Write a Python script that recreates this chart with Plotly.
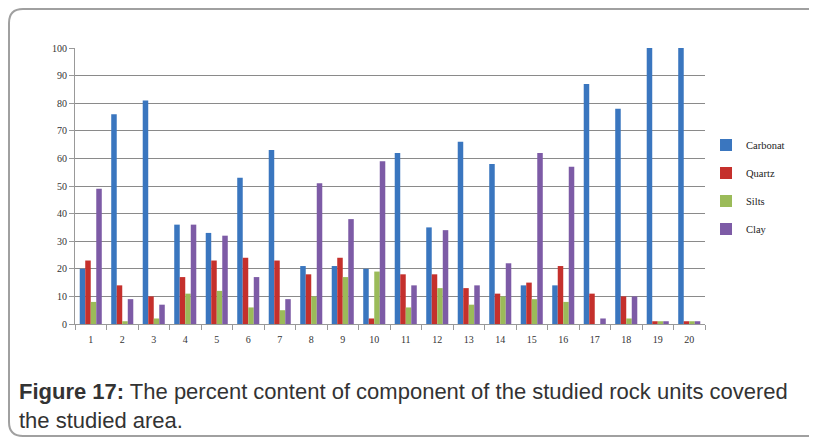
import plotly.graph_objects as go

categories = [str(i) for i in range(1, 21)]
carbonat = [20, 76, 81, 36, 33, 53, 63, 21, 21, 20, 62, 35, 66, 58, 14, 14, 87, 78, 100, 100]
quartz   = [23, 14, 10, 17, 23, 24, 23, 18, 24, 2, 18, 18, 13, 11, 15, 21, 11, 10, 1, 1]
silts    = [8, 1, 2, 11, 12, 6, 5, 10, 17, 19, 6, 13, 7, 10, 9, 8, 0, 2, 1, 1]
clay     = [49, 9, 7, 36, 32, 17, 9, 51, 38, 59, 14, 34, 14, 22, 62, 57, 2, 10, 1, 1]
series_names = ["Carbonat", "Quartz", "Silts", "Clay"]
y_ticks = list(range(0, 101, 10))

colors = ["#3a76bf", "#c5302c", "#9bbb59", "#7d5ba6"]
serif = "Liberation Serif, Times New Roman, serif"

fig = go.Figure()
for i, (name, vals) in enumerate(zip(series_names, [carbonat, quartz, silts, clay])):
    fig.add_trace(go.Bar(
        x=categories, y=vals, name=name,
        marker=dict(color=colors[i], line=dict(width=0)),
        legendgroup=name,
    ))

# page body has an 8px margin; figure sized to fit the window
OFF = 8
W, H = 817 - OFF, 442 - OFF
L, R, T, B = 67, 112, 40, 118
fig.update_layout(
    width=W, height=H,
    margin=dict(l=L, r=R, t=T, b=B, autoexpand=False),
    paper_bgcolor="white", plot_bgcolor="white",
    barmode="group", bargap=0.3, bargroupgap=0,
    font=dict(family=serif, size=10, color="#333333"),
    showlegend=True,
    legend=dict(
        x=1.0016, y=0.701, xanchor="left", yanchor="top",
        font=dict(family=serif, size=10.5, color="#222222"),
        traceorder="grouped", tracegroupgap=9,
        bgcolor="rgba(0,0,0,0)",
        itemwidth=30,
    ),
    xaxis=dict(
        type="category", showgrid=False,
        showline=True, linecolor="#999999", linewidth=1,
        ticks="outside", ticklen=5, tickcolor="#999999", tickson="boundaries",
        ticklabelstandoff=6,
        tickfont=dict(family=serif, size=10, color="#333333"),
    ),
    yaxis=dict(
        range=[0, 100], tickvals=y_ticks,
        showgrid=True, gridcolor="#8a8a8a", gridwidth=1,
        showline=True, linecolor="#999999", linewidth=1,
        ticks="outside", ticklen=5, tickcolor="#999999",
        tickfont=dict(family=serif, size=10, color="#333333"),
        zeroline=False,
    ),
)

pw = W - L - R
ph = H - T - B
def px(x):
    return (x - OFF - L) / pw
def py(y):
    return (H - B - (y - OFF)) / ph

# outer rounded frame
x0, x1, y0, y1, r = px(9), px(840), py(9), py(436), 14
path = (f"M {x0 + r/pw},{y0} L {x1},{y0} L {x1},{y1} L {x0 + r/pw},{y1} "
        f"Q {x0},{y1} {x0},{y1 + r/ph} L {x0},{y0 - r/ph} Q {x0},{y0} {x0 + r/pw},{y0} Z")
fig.add_shape(type="path", path=path, xref="paper", yref="paper",
              line=dict(color="#a0a0a0", width=2), fillcolor="rgba(0,0,0,0)", layer="below")

cap_font = dict(family="Liberation Sans, Arial, sans-serif", size=22, color="#333333")
fig.add_annotation(
    xref="paper", yref="paper", x=px(17), y=py(391), xanchor="left", yanchor="middle",
    text="<b>Figure 17:</b> The percent content of component of the studied rock units covered",
    showarrow=False, font=cap_font, align="left",
)
fig.add_annotation(
    xref="paper", yref="paper", x=px(17), y=py(420), xanchor="left", yanchor="middle",
    text="the studied area.",
    showarrow=False, font=cap_font, align="left",
)

fig.write_html("out.html")
